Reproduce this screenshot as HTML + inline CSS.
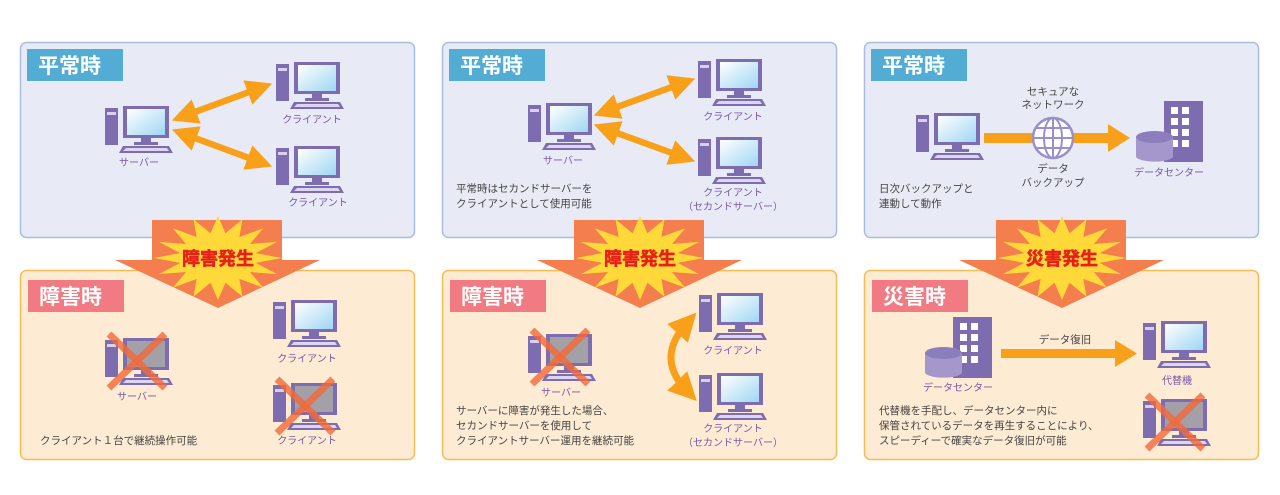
<!DOCTYPE html>
<html><head><meta charset="utf-8">
<style>
html,body{margin:0;padding:0;background:#fff;}
svg{display:block;}
text{font-family:"Liberation Sans","Noto Sans CJK JP",sans-serif;}
.lb{font-size:10px;fill:#7a56a8;text-anchor:middle;}
.tx{font-size:10.5px;fill:#444;}
.hd{font-size:21px;font-weight:bold;fill:#fff;}
.bt{font-size:18px;font-weight:bold;fill:#e8201a;text-anchor:middle;stroke:#e8201a;stroke-width:0.6;}
</style></head><body>
<svg width="1280" height="495" viewBox="0 0 1280 495" xmlns="http://www.w3.org/2000/svg">
<defs>
<linearGradient id="scr" x1="0" y1="0" x2="1" y2="1"><stop offset="0" stop-color="#ffffff"/><stop offset="1" stop-color="#9fd6f3"/></linearGradient>
<g id="pc">
  <rect x="0" y="2" width="13" height="37" fill="#7d6db0"/>
  <rect x="2" y="6" width="9" height="3" fill="#d8d0ee"/>
  <rect x="18" y="0" width="46" height="32" fill="#7d6db0"/>
  <rect x="22" y="3" width="38" height="26" fill="url(#scr)"/>
  <rect x="36" y="32" width="10" height="5" fill="#7d6db0"/>
  <rect x="29" y="36" width="24" height="3" fill="#7d6db0"/>
  <polygon points="18,40 64,40 68,47 14,47" fill="#7d6db0"/>
  <polygon points="21,42 62,42 64,45 18,45" fill="#ddd6f0"/>
</g>
<g id="pcx">
  <rect x="0" y="2" width="13" height="37" fill="#7d6db0"/>
  <rect x="2" y="6" width="9" height="3" fill="#d8d0ee"/>
  <rect x="18" y="0" width="46" height="32" fill="#7d6db0"/>
  <rect x="22" y="3" width="38" height="26" fill="#a3a0a8"/>
  <rect x="36" y="32" width="10" height="5" fill="#7d6db0"/>
  <rect x="29" y="36" width="24" height="3" fill="#7d6db0"/>
  <polygon points="18,40 64,40 68,47 14,47" fill="#7d6db0"/>
  <polygon points="21,42 62,42 64,45 18,45" fill="#ddd6f0"/>
  <line x1="4" y1="-4" x2="60" y2="50" stroke="#f26a3a" stroke-width="7" opacity="0.8"/>
  <line x1="60" y1="-4" x2="4" y2="50" stroke="#f26a3a" stroke-width="7" opacity="0.8"/>
</g>
<g id="dc">
  <rect x="28" y="0" width="39" height="61" fill="#7d6db0"/>
  <rect x="35" y="6" width="7" height="7" fill="#fff"/><rect x="46" y="6" width="7" height="7" fill="#fff"/>
  <rect x="35" y="17" width="7" height="7" fill="#fff"/><rect x="46" y="17" width="7" height="7" fill="#fff"/>
  <rect x="35" y="28" width="7" height="7" fill="#fff"/><rect x="46" y="28" width="7" height="7" fill="#fff"/>
  <rect x="35" y="39" width="7" height="7" fill="#fff"/><rect x="46" y="39" width="7" height="7" fill="#fff"/>
  <path d="M0,36 L0,56 A19,6 0 0 0 37,56 L37,36 Z" fill="#a596cc"/>
  <ellipse cx="18.5" cy="36" rx="18.5" ry="6" fill="#8c7dbd"/>
</g>
<polygon id="star" points="1,0 .589,.117 .924,.383 .499,.334 .707,.707 .334,.499 .383,.924 .117,.589 0,1 -.117,.589 -.383,.924 -.334,.499 -.707,.707 -.499,.334 -.924,.383 -.589,.117 -1,0 -.589,-.117 -.924,-.383 -.499,-.334 -.707,-.707 -.334,-.499 -.383,-.924 -.117,-.589 0,-1 .117,-.589 .383,-.924 .334,-.499 .707,-.707 .499,-.334 .924,-.383 .589,-.117" fill="#ffd93a"/>
<marker id="ah" viewBox="0 0 10 10" refX="5" refY="5" markerWidth="4" markerHeight="4" orient="auto-start-reverse"><polygon points="0,0 10,5 0,10" fill="#f9a01b"/></marker>
</defs>

<g stroke-width="1.5">
<rect x="20.5" y="42.5" width="394" height="195" rx="6" fill="#e8ebf6" stroke="#a9bde3"/>
<rect x="442.5" y="42.5" width="394" height="195" rx="6" fill="#e8ebf6" stroke="#a9bde3"/>
<rect x="864.5" y="42.5" width="394" height="195" rx="6" fill="#e8ebf6" stroke="#a9bde3"/>
<rect x="20.5" y="270.5" width="394" height="189" rx="6" fill="#fdebd3" stroke="#f6bd55"/>
<rect x="442.5" y="270.5" width="394" height="189" rx="6" fill="#fdebd3" stroke="#f6bd55"/>
<rect x="864.5" y="270.5" width="394" height="189" rx="6" fill="#fdebd3" stroke="#f6bd55"/>
</g>

<rect x="27" y="49" width="96" height="32" fill="#52acd3"/><text class="hd" x="38" y="73">平常時</text>
<rect x="449" y="49" width="96" height="32" fill="#52acd3"/><text class="hd" x="460" y="73">平常時</text>
<rect x="871" y="49" width="96" height="32" fill="#52acd3"/><text class="hd" x="882" y="73">平常時</text>
<rect x="28" y="280" width="96" height="32" fill="#f27a82"/><text class="hd" x="39" y="304">障害時</text>
<rect x="450" y="280" width="96" height="32" fill="#f27a82"/><text class="hd" x="461" y="304">障害時</text>
<rect x="872" y="280" width="96" height="32" fill="#f27a82"/><text class="hd" x="883" y="304">災害時</text>

<g fill="#f47e4e">
<path d="M152,220 H282 V260 H320 L218,308 L115,260 H152 Z"/>
<path d="M574,220 H704 V260 H742 L640,308 L537,260 H574 Z"/>
<path d="M996,220 H1126 V260 H1164 L1062,308 L959,260 H996 Z"/>
</g>
<use href="#star" transform="translate(218,258) scale(64,42)"/>
<use href="#star" transform="translate(640,258) scale(64,42)"/>
<use href="#star" transform="translate(1062,258) scale(64,42)"/>
<text class="bt" x="218" y="265">障害発生</text>
<text class="bt" x="640" y="265">障害発生</text>
<text class="bt" x="1062" y="265">災害発生</text>

<use href="#pc" x="105" y="106"/><text class="lb" x="139" y="166">サーバー</text>
<use href="#pc" x="276" y="62"/><text class="lb" x="312" y="123">クライアント</text>
<use href="#pc" x="276" y="146"/><text class="lb" x="318" y="206">クライアント</text>
<g stroke="#f9a01b" stroke-width="6.5" marker-start="url(#ah)" marker-end="url(#ah)">
<line x1="184" y1="116" x2="260" y2="88"/>
<line x1="184" y1="134" x2="260" y2="162"/>
</g>

<use href="#pcx" x="105" y="338"/><text class="lb" x="137" y="400">サーバー</text>
<use href="#pc" x="273" y="300"/><text class="lb" x="307" y="362">クライアント</text>
<use href="#pcx" x="273" y="383"/><text class="lb" x="307" y="444">クライアント</text>
<text class="tx" x="40" y="444">クライアント１台で継続操作可能</text>

<use href="#pc" x="528" y="103"/><text class="lb" x="563" y="164">サーバー</text>
<use href="#pc" x="698" y="59"/><text class="lb" x="733" y="120">クライアント</text>
<use href="#pc" x="698" y="137"/><text class="lb" x="733" y="196">クライアント</text><text class="lb" x="733" y="210">（セカンドサーバー）</text>
<g stroke="#f9a01b" stroke-width="6.5" marker-start="url(#ah)" marker-end="url(#ah)">
<line x1="606" y1="111" x2="683" y2="83"/>
<line x1="606" y1="129" x2="683" y2="157"/>
</g>
<text class="tx" x="456" y="192">平常時はセカンドサーバーを</text>
<text class="tx" x="456" y="207">クライアントとして使用可能</text>

<use href="#pcx" x="528" y="334"/><text class="lb" x="561" y="396">サーバー</text>
<use href="#pc" x="699" y="293"/><text class="lb" x="733" y="354">クライアント</text>
<use href="#pc" x="699" y="373"/><text class="lb" x="733" y="432">クライアント</text><text class="lb" x="733" y="446">（セカンドサーバー）</text>
<path d="M687,323 Q655,358 687,391" fill="none" stroke="#f9a01b" stroke-width="7" marker-start="url(#ah)" marker-end="url(#ah)"/>
<text class="tx" x="456" y="414">サーバーに障害が発生した場合、</text>
<text class="tx" x="456" y="429">セカンドサーバーを使用して</text>
<text class="tx" x="456" y="444">クライアントサーバー運用を継続可能</text>

<use href="#pc" x="916" y="113"/>
<rect x="984" y="133" width="126" height="10" fill="#f9a01b"/>
<polygon points="1108,124 1130,138 1108,152" fill="#f9a01b"/>
<circle cx="1053" cy="138" r="20" fill="#fff" stroke="#9a8fcb" stroke-width="2.5"/>
<g stroke="#9a8fcb" stroke-width="2" fill="none">
<ellipse cx="1053" cy="138" rx="9" ry="20"/>
<line x1="1053" y1="118" x2="1053" y2="158"/>
<line x1="1033" y1="138" x2="1073" y2="138"/>
<line x1="1036" y1="128" x2="1070" y2="128"/>
<line x1="1036" y1="148" x2="1070" y2="148"/>
</g>
<text class="tx" x="1053" y="95" text-anchor="middle" font-size="10">セキュアな</text>
<text class="tx" x="1053" y="108" text-anchor="middle" font-size="10">ネットワーク</text>
<text class="tx" x="1053" y="172" text-anchor="middle" font-size="10">データ</text>
<text class="tx" x="1053" y="186" text-anchor="middle" font-size="10">バックアップ</text>
<use href="#dc" x="1136" y="101"/>
<text class="lb" x="1169" y="176">データセンター</text>
<text class="tx" x="879" y="192">日次バックアップと</text>
<text class="tx" x="879" y="207">連動して動作</text>

<use href="#dc" x="925" y="317"/>
<text class="lb" x="958" y="391">データセンター</text>
<rect x="1001" y="349" width="116" height="9" fill="#f9a01b"/>
<polygon points="1115,340 1137,353.5 1115,367" fill="#f9a01b"/>
<text class="tx" x="1065" y="343" text-anchor="middle">データ復旧</text>
<use href="#pc" x="1143" y="321"/><text class="lb" x="1177" y="384">代替機</text>
<use href="#pcx" x="1143" y="399"/>
<text class="tx" x="879" y="414">代替機を手配し、データセンター内に</text>
<text class="tx" x="879" y="429">保管されているデータを再生することにより、</text>
<text class="tx" x="879" y="444">スピーディーで確実なデータ復旧が可能</text>
</svg>
</body></html>
